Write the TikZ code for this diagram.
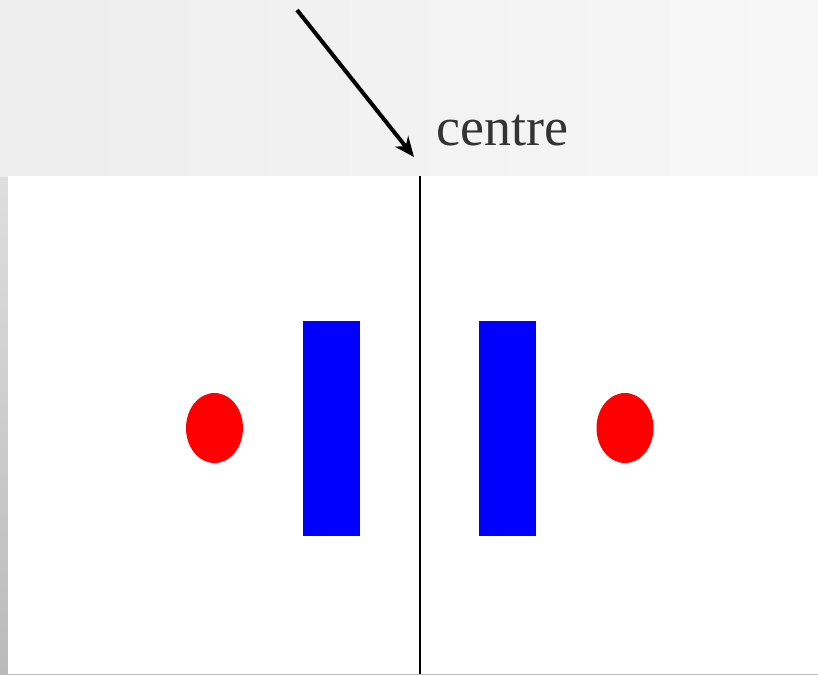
\documentclass[tikz,border=0pt]{standalone}
\usepackage{fontspec}
\setmainfont{Liberation Serif}
\usetikzlibrary{arrows.meta}
\tikzset{
  dot/.style={fill=red, draw=none},
  bar/.style={fill=blue, draw=none},
  pointer/.style={line width=4pt, -{Stealth[length=20pt,width=17pt]}},
  lbl/.style={text=black!80, font=\fontsize{54}{60}\selectfont, inner sep=0pt}
}
\begin{document}
\begin{tikzpicture}[x=1pt,y=-1pt]
\useasboundingbox (0,0) rectangle (818,674);
% background
\shade[top color=black!8, bottom color=black!27] (0,0) rectangle (818,674);
\shade[left color=black!7, right color=black!3] (0,0) rectangle (818,176);
\fill[white] (8,176) rectangle (818,674);
% centre line
\coordinate (ltop) at (420,176);
\coordinate (lbot) at (420,674);
\draw[line width=1.6pt] (ltop) -- (lbot);
% label and arrow
\node[lbl, anchor=base west] (lab) at (436,145) {centre};
\coordinate (astart) at (297,10);
\coordinate (aend) at (414,157);
\draw[pointer] (astart) -- (aend);
% shapes
\fill[dot] (214.5,428) ellipse [x radius=28.5, y radius=35];
\fill[dot] (625,428) ellipse [x radius=28.5, y radius=35];
\fill[bar] (303,321) rectangle (360,536);
\fill[bar] (479,321) rectangle (536,536);
\end{tikzpicture}
\end{document}
